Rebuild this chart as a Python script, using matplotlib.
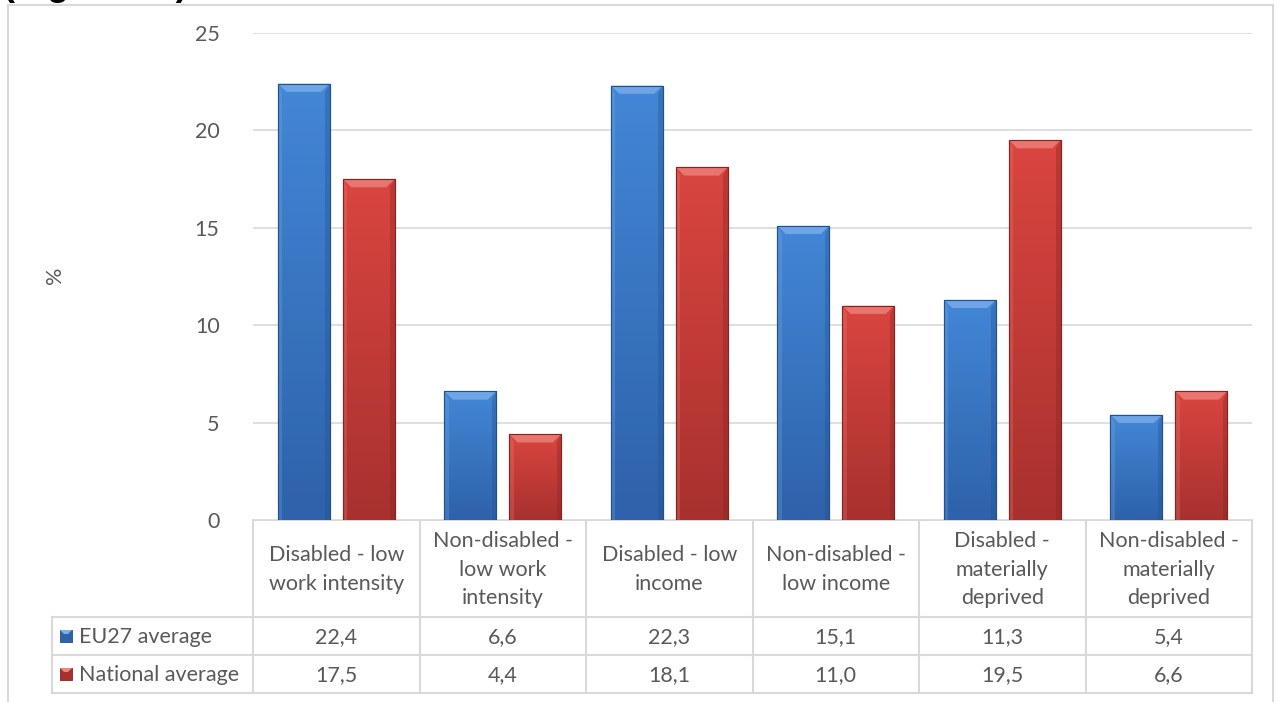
import numpy as np
import matplotlib
matplotlib.use("Agg")
import matplotlib.pyplot as plt
from matplotlib.patches import Polygon, Rectangle

plt.rcParams['font.family'] = ['Lato', 'DejaVu Sans']

categories = ["Disabled - low\nwork intensity",
              "Non-disabled -\nlow work\nintensity",
              "Disabled - low\nincome",
              "Non-disabled -\nlow income",
              "Disabled -\nmaterially\ndeprived",
              "Non-disabled -\nmaterially\ndeprived"]
series_names = ["EU27 average", "National average"]
eu27 = [22.4, 6.6, 22.3, 15.1, 11.3, 5.4]
national = [17.5, 4.4, 18.1, 11.0, 19.5, 6.6]
yticks = [0, 5, 10, 15, 20, 25]

# colours: (top of gradient, bottom of gradient, bevel light, edge dark)
blue = ("#4387D6", "#2E62AA", "#7FB0EC", "#24508C")
red = ("#DA4540", "#A8312E", "#EE8680", "#852522")
txt = "#595959"
grid = "#D9D9D9"
fs = 15.5

W, H = 1284, 702
fig = plt.figure(figsize=(W / 100, H / 100), dpi=100)

# plot area in pixels
px_l, px_r, px_t, px_b = 253, 1252, 33, 520
ax = fig.add_axes([px_l / W, 1 - px_b / H, (px_r - px_l) / W, (px_b - px_t) / H])
ax.set_xlim(-0.5, len(categories) - 0.5)
ax.set_ylim(0, 25)
ax.set_yticks(yticks)
ax.set_yticklabels([str(t) for t in yticks], fontsize=fs, color=txt)
ax.tick_params(axis='y', length=0, pad=24)
ax.set_xticks([])
for s in ax.spines.values():
    s.set_visible(False)
ax.yaxis.grid(True, color=grid, lw=1.2)
ax.set_axisbelow(True)

x = np.arange(len(categories))
bw = 0.31
off = 0.195

grad = np.linspace(0, 1, 100).reshape(-1, 1)


def fancy_bars(xs, vals, cols):
    bars = ax.bar(xs, vals, bw, color=cols[0], edgecolor=cols[3], lw=0.8, zorder=2)
    cmap = matplotlib.colors.LinearSegmentedColormap.from_list("g", [cols[1], cols[0]])
    dx = 0.05
    dy = 0.42
    for b in bars:
        x0, h, w = b.get_x(), b.get_height(), b.get_width()
        im = ax.imshow(grad, extent=(x0, x0 + w, 0, h), origin='lower', cmap=cmap,
                       aspect='auto', zorder=2.1)
        im.set_clip_path(b)
        # top bevel
        ax.add_patch(Polygon([(x0, h), (x0 + w, h), (x0 + w - dx, h - dy), (x0 + dx, h - dy)],
                             closed=True, fc=cols[2], ec='none', alpha=0.75, zorder=2.2))
        # right side darker strip
        ax.add_patch(Polygon([(x0 + w, h), (x0 + w, 0), (x0 + w - dx * 0.5, 0),
                              (x0 + w - dx * 0.5, h - dy)],
                             closed=True, fc=cols[3], ec='none', alpha=0.35, zorder=2.2))
        # left side lighter strip
        ax.add_patch(Polygon([(x0, h), (x0, 0), (x0 + dx * 0.5, 0), (x0 + dx * 0.5, h - dy)],
                             closed=True, fc=cols[2], ec='none', alpha=0.25, zorder=2.2))
        # outline on top
        ax.add_patch(Rectangle((x0, 0), w, h, fc='none', ec=cols[3], lw=0.8, zorder=2.3))
    return bars


fancy_bars(x - off, eu27, blue)
fancy_bars(x + off, national, red)
ax.set_xlim(-0.5, len(categories) - 0.5)
ax.set_ylim(0, 25)

# overlay in pixel coordinates for table, border, labels
ov = fig.add_axes([0, 0, 1, 1], zorder=-1)
ov.set_xlim(0, W)
ov.set_ylim(H, 0)
ov.axis('off')

# chart border
ov.plot([8, 8], [5, H + 5], color=grid, lw=1.5)
ov.plot([1273, 1273], [5, H + 5], color=grid, lw=1.5)
ov.plot([8, 1273], [5, 5], color=grid, lw=1.5)

ov.text(55, 275, "%", rotation=90, ha='center', va='center', fontsize=fs, color=txt)
# heading above the chart, mostly outside the visible area as in the source
fig.text(3 / W, 1 + 5 / H, "(Figure 10)", fontsize=26, fontweight='bold',
         family='Liberation Sans', ha='left', va='baseline', color='black')

# data table
slot = (px_r - px_l) / len(categories)
cols_x = [px_l + i * slot for i in range(len(categories) + 1)]
hdr_b = 617
row_h = 38
leg_l = 52
lc = "#D9D9D9"
lw = 1.5
for cx in cols_x:
    ov.plot([cx, cx], [px_b, hdr_b + 2 * row_h], color=lc, lw=lw)
ov.plot([px_l, px_r], [px_b, px_b], color=lc, lw=lw)
for r in range(3):
    yy = hdr_b + r * row_h
    ov.plot([leg_l, px_r], [yy, yy], color=lc, lw=lw)
ov.plot([leg_l, leg_l], [hdr_b, hdr_b + 2 * row_h], color=lc, lw=lw)

for i, c in enumerate(categories):
    ov.text((cols_x[i] + cols_x[i + 1]) / 2, (px_b + hdr_b) / 2 + 1, c, ha='center', va='center',
            fontsize=fs, color=txt, linespacing=1.52)

for r, (name, vals, cols) in enumerate([(series_names[0], eu27, blue),
                                        (series_names[1], national, red)]):
    yc = hdr_b + r * row_h + row_h / 2
    # legend key
    ov.add_patch(Rectangle((60, yc - 6), 12, 12, fc=cols[1], ec=cols[3], lw=0.6))
    ov.add_patch(Polygon([(60, yc - 6), (72, yc - 6), (68, yc - 2), (64, yc - 2)],
                         closed=True, fc=cols[2], ec='none'))
    ov.text(79, yc + 1, name, ha='left', va='center', fontsize=fs, color=txt)
    for i, v in enumerate(vals):
        ov.text((cols_x[i] + cols_x[i + 1]) / 2, yc + 1, f"{v:.1f}".replace('.', ','),
                ha='center', va='center', fontsize=fs, color=txt)

fig.savefig("out.png", dpi=100)
